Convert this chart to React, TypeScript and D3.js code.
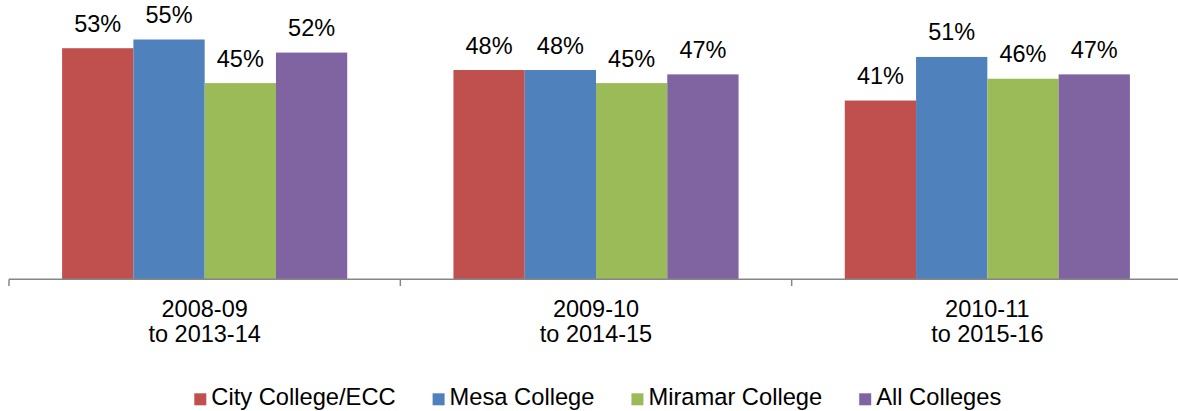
import React, { useEffect, useRef } from "react";
import * as d3 from "d3";

const categories = ["2008-09\nto 2013-14", "2009-10\nto 2014-15", "2010-11\nto 2015-16"];
const seriesNames = ["City College/ECC", "Mesa College", "Miramar College", "All Colleges"];
const seriesColors = ["#C0504D", "#4F81BD", "#9BBB59", "#8064A2"];
const cityValues = [53, 48, 41];
const mesaValues = [55, 48, 51];
const miramarValues = [45, 45, 46];
const allValues = [52, 47, 47];

const W = 1178;
const H = 411;
const FONT = "'Liberation Sans', Arial, sans-serif";

export default function App() {
  const ref = useRef<SVGSVGElement>(null);

  useEffect(() => {
    const svg = d3.select(ref.current);
    svg.selectAll("*").remove();
    const values = [cityValues, mesaValues, miramarValues, allValues];

    const x0 = d3.scaleBand<string>().domain(categories).range([9, 1183]).padding(0);
    const x1 = d3
      .scaleBand<string>()
      .domain(seriesNames)
      .range([0, x0.bandwidth()])
      .paddingInner(0)
      .paddingOuter(0.745);
    const y = d3.scaleLinear().domain([0, 60]).range([279.3, 17.7]);

    const g = svg.append("g");
    categories.forEach((cat, ci) => {
      seriesNames.forEach((s, si) => {
        const v = values[si][ci];
        const bx = (x0(cat) as number) + (x1(s) as number);
        g.append("rect")
          .attr("x", bx)
          .attr("y", y(v))
          .attr("width", x1.bandwidth())
          .attr("height", y(0) - y(v))
          .attr("fill", seriesColors[si]);
        g.append("text")
          .attr("x", bx + x1.bandwidth() / 2)
          .attr("y", y(v) - 16.5)
          .attr("text-anchor", "middle")
          .attr("font-family", FONT)
          .attr("font-size", 23.5)
          .attr("fill", "#000")
          .text(`${v}%`);
      });
    });

    // axis
    const axis = svg.append("g");
    axis
      .append("line")
      .attr("x1", 9)
      .attr("x2", 1183)
      .attr("y1", 279.3)
      .attr("y2", 279.3)
      .attr("stroke", "#868686")
      .attr("stroke-width", 1.5);
    const tickXs = [...categories.map((c) => x0(c) as number), 1183];
    tickXs.forEach((tx) => {
      axis
        .append("line")
        .attr("x1", tx)
        .attr("x2", tx)
        .attr("y1", 279.3)
        .attr("y2", 286)
        .attr("stroke", "#868686")
        .attr("stroke-width", 1.5);
    });
    categories.forEach((cat) => {
      const cx = (x0(cat) as number) + x0.bandwidth() / 2;
      const lines = cat.split("\n");
      lines.forEach((ln, li) => {
        axis
          .append("text")
          .attr("x", cx)
          .attr("y", 316.7 + li * 25)
          .attr("text-anchor", "middle")
          .attr("font-family", FONT)
          .attr("font-size", 23.5)
          .attr("fill", "#000")
          .text(ln);
      });
    });

    // legend
    const leg = svg.append("g");
    let lx = 194.3;
    seriesNames.forEach((s, si) => {
      leg
        .append("rect")
        .attr("x", lx)
        .attr("y", 393.3)
        .attr("width", 12)
        .attr("height", 12)
        .attr("fill", seriesColors[si]);
      const t = leg
        .append("text")
        .attr("x", lx + 17)
        .attr("y", 404.5)
        .attr("font-family", FONT)
        .attr("font-size", 23.7)
        .attr("fill", "#000")
        .text(s);
      const tw = (t.node() as SVGTextElement).getComputedTextLength();
      lx = lx + 17 + tw + 37;
    });
  }, []);

  return (
    <svg
      ref={ref}
      width={W}
      height={H}
      style={{ position: "absolute", left: 0, top: 0, display: "block", background: "#fff" }}
    />
  );
}
